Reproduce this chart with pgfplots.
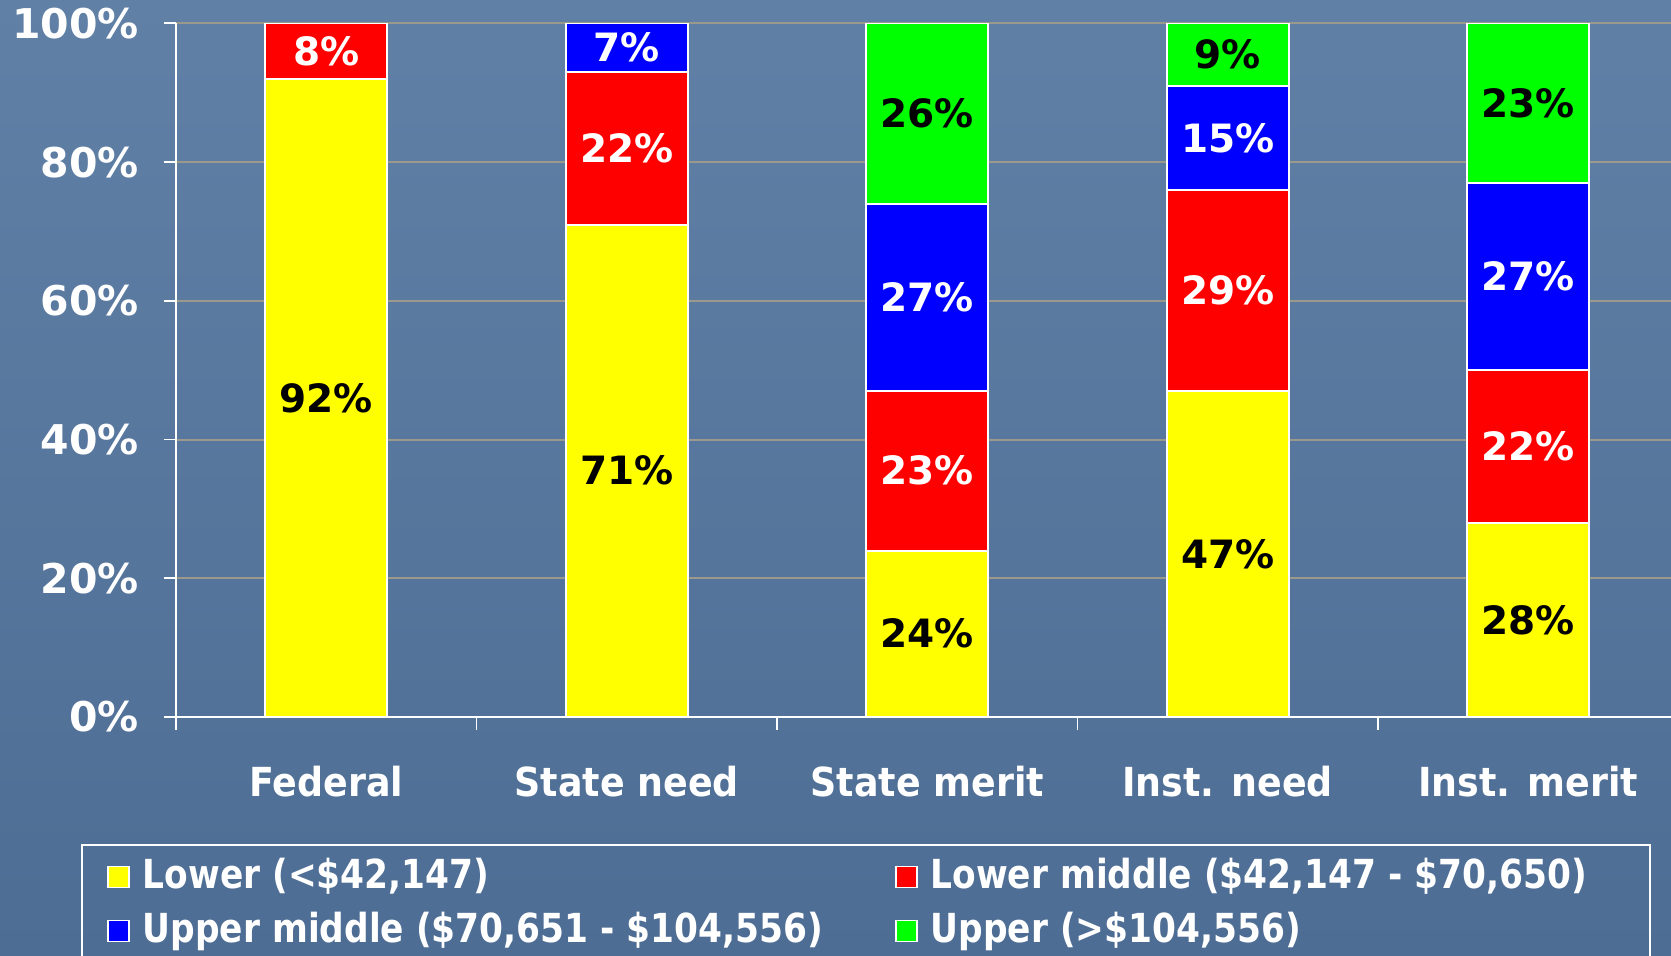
\documentclass[border=0pt]{standalone}
\usepackage{fontspec}
\setmainfont{DejaVu Sans}
\newfontfamily\condfont[FakeStretch=0.91]{DejaVu Sans}
\newfontfamily\legfont[FakeStretch=0.86]{DejaVu Sans}
\usepackage{pgfplots}
\pgfplotsset{compat=1.18}
\definecolor{bgtop}{RGB}{96,128,166}
\definecolor{bgbot}{RGB}{78,109,148}
\definecolor{gridc}{RGB}{155,152,140}
\definecolor{cyel}{RGB}{255,255,0}
\definecolor{cred}{RGB}{255,0,0}
\definecolor{cblue}{RGB}{0,0,255}
\definecolor{cgreen}{RGB}{0,255,0}
\begin{document}
\begin{tikzpicture}[x=1pt,y=1pt]
\clip (0,0) rectangle (1671,956);
\shade[top color=bgtop,bottom color=bgbot] (0,0) rectangle (1671,956);
\draw[white,line width=1.5pt] (82,111) rectangle (1650,-30);
\begin{axis}[
  at={(176pt,239pt)}, anchor=south west, scale only axis,
  width=1502.5pt, height=693.6pt,
  xmin=-0.5, xmax=4.5, ymin=0, ymax=100,
  ybar stacked, bar width=122pt,
  axis x line*=bottom, axis y line*=left,
  axis line style={white, line width=1.8pt},
  /pgf/number format/assume math mode=true,
  ytick={0,20,...,100},
  yticklabel={\pgfmathprintnumber{\tick}\%},
  ymajorgrids, major grid style={gridc, line width=2pt},
  xtick={0,...,4},
  xticklabels={Federal,State need,State merit,Inst. need,Inst. merit},
  minor xtick={-0.5,0.5,1.5,2.5,3.5},
  tick align=outside, major tick length=12pt, minor tick length=13pt,
  major x tick style={draw=none},
  minor x tick style={white, line width=1.8pt},
  major y tick style={white, line width=1.8pt},
  yticklabel style={font=\fontsize{41}{48}\selectfont\bfseries, text=white, inner sep=0pt, anchor=east, xshift=-25pt},
  xticklabel style={font=\condfont\fontsize{40}{48}\selectfont\bfseries, text=white, inner sep=0pt, anchor=base, yshift=-68pt},
  point meta=rawy,
  nodes near coords={\pgfmathfloatifflags{\pgfplotspointmeta}{0}{}{\pgfmathprintnumber{\pgfplotspointmeta}\%}},
  nodes near coords style={anchor=center, inner sep=0pt, font=\fontsize{39}{46}\selectfont\bfseries},
  legend style={at={(-0.0459,-0.2036)}, anchor=north west, draw=none, fill=none, text=white,
    font=\legfont\fontsize{40}{48}\selectfont\bfseries, legend columns=2, inner sep=0pt,
    nodes={inner sep=0pt, text height=30pt, text depth=10pt},
    column sep=13pt, row sep=14.3pt,
    /tikz/every even column/.append style={column sep=72pt}},
  legend cell align=left,
]
\addplot[fill=cyel, draw=white, line width=2pt, every node near coord/.append style={text=black},
  legend image code/.code={\draw[fill=cyel,draw=white,line width=1.5pt] (0pt,-9pt) rectangle (21pt,12pt);}]
  coordinates {(0,92) (1,71) (2,24) (3,47) (4,28)};
\addplot[fill=cred, draw=white, line width=2pt, every node near coord/.append style={text=white},
  legend image code/.code={\draw[fill=cred,draw=white,line width=1.5pt] (0pt,-9pt) rectangle (21pt,12pt);}]
  coordinates {(0,8) (1,22) (2,23) (3,29) (4,22)};
\addplot[fill=cblue, draw=white, line width=2pt, every node near coord/.append style={text=white},
  legend image code/.code={\draw[fill=cblue,draw=white,line width=1.5pt] (0pt,-9pt) rectangle (21pt,12pt);}]
  coordinates {(0,0) (1,7) (2,27) (3,15) (4,27)};
\addplot[fill=cgreen, draw=white, line width=2pt, every node near coord/.append style={text=black},
  legend image code/.code={\draw[fill=cgreen,draw=white,line width=1.5pt] (0pt,-9pt) rectangle (21pt,12pt);}]
  coordinates {(0,0) (1,0) (2,26) (3,9) (4,23)};
\legend{{Lower (<\$42,147)},{Lower middle (\$42,147 - \$70,650)},{Upper middle (\$70,651 - \$104,556)},{Upper (>\$104,556)}}
\end{axis}
\end{tikzpicture}
\end{document}
